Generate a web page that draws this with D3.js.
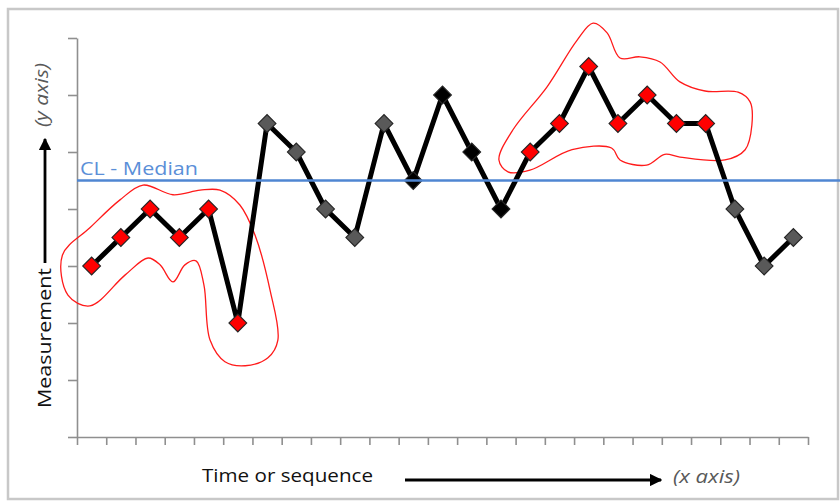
<!DOCTYPE html>
<html>
<head>
<meta charset="utf-8">
<script src="https://cdn.jsdelivr.net/npm/d3@7"></script>
<style>
  body { margin: 0; background: #fff; }
  svg { display: block; font-family: "Open Sans", "Noto Sans", sans-serif; }
</style>
</head>
<body>
<div id="chart"></div>
<script>
var svgWidth = 840;
var svgHeight = 502;

// data
var seq = [1, 2, 3, 4, 5, 6, 7, 8, 9, 10, 11, 12, 13, 14, 15, 16, 17, 18, 19, 20, 21, 22, 23, 24, 25];
var measure = [3, 3.5, 4, 3.5, 4, 2, 5.5, 5, 4, 3.5, 5.5, 4.5, 6, 5, 4, 5, 5.5, 6.5, 5.5, 6, 5.5, 5.5, 4, 3, 3.5];
// marker kind per point: r = red (signal), g = gray, k = black
var kind = ["r", "r", "r", "r", "r", "r", "g", "g", "g", "g", "g", "k", "k", "k", "k",
            "r", "r", "r", "r", "r", "r", "r", "g", "g", "g"];
var median = 4.5;
var yTicks = [0, 1, 2, 3, 4, 5, 6, 7];
var xTicks = [0.5, 1.5, 2.5, 3.5, 4.5, 5.5, 6.5, 7.5, 8.5, 9.5, 10.5, 11.5, 12.5, 13.5,
              14.5, 15.5, 16.5, 17.5, 18.5, 19.5, 20.5, 21.5, 22.5, 23.5, 24.5, 25.5];

// hand drawn red outlines, in (sequence, measurement) units
var loopLeft = [[0.0, 3.19], [0.94, 3.67], [1.97, 4.16], [2.76, 4.42], [3.78, 4.25], [4.71, 4.33],
  [5.39, 4.33], [6.07, 4.07], [6.59, 3.54], [7.10, 2.58], [7.37, 1.70], [7.03, 1.39],
  [6.25, 1.25], [5.56, 1.32], [5.05, 1.70], [4.84, 2.67], [4.57, 3.09], [4.19, 3.02],
  [3.78, 2.72], [3.34, 3.02], [2.93, 3.14], [2.14, 2.84], [0.94, 2.30], [0.19, 2.49]];
var loopRight = [[14.93, 4.86], [15.41, 5.39], [16.57, 6.14], [17.60, 6.96], [18.15, 7.26],
  [18.63, 7.09], [19.07, 6.65], [19.75, 6.67], [20.44, 6.58], [21.12, 6.23], [21.98, 6.07],
  [23.11, 6.05], [23.52, 5.88], [23.58, 5.47], [23.35, 5.04], [22.66, 4.86], [21.12, 4.91],
  [20.60, 4.96], [19.98, 4.77], [19.07, 4.86], [18.78, 5.07], [17.43, 5.04], [15.99, 4.68],
  [15.24, 4.65]];

var svg = d3.select("#chart")
  .append("svg")
  .attr("width", svgWidth)
  .attr("height", svgHeight);

// outer frame
svg.append("rect")
  .attr("x", 8).attr("y", 9)
  .attr("width", 830).attr("height", 490)
  .attr("fill", "none")
  .attr("stroke", "#c8c8c8")
  .attr("stroke-width", 2.5);

var xScale = d3.scaleLinear().domain([0.5, 25.5]).range([77, 808]);
var yScale = d3.scaleLinear().domain([0, 7]).range([437, 38]);

// axes, no labels
var yAxis = d3.axisLeft(yScale).tickValues(yTicks).tickSize(9).tickSizeOuter(0).tickFormat("");
var xAxis = d3.axisBottom(xScale).tickValues(xTicks).tickSize(8).tickSizeOuter(0).tickFormat("");

svg.append("g").attr("transform", "translate(" + xScale.range()[0] + ",0)").call(yAxis);
svg.append("g").attr("transform", "translate(0," + yScale(0) + ")").call(xAxis);
svg.selectAll(".domain, .tick line")
  .attr("stroke", "#8f8f8f")
  .attr("stroke-width", 1.6);

// red outlines
var loop = d3.line()
  .x(function(d) { return xScale(d[0]); })
  .y(function(d) { return yScale(d[1]); })
  .curve(d3.curveCatmullRomClosed.alpha(0.5));

[loopLeft, loopRight].forEach(function(pts) {
  svg.append("path")
    .attr("d", loop(pts))
    .attr("fill", "none")
    .attr("stroke", "#ff1a1a")
    .attr("stroke-width", 1.3);
});

// the series line
var pts = seq.map(function(s, i) { return { s: s, v: measure[i], k: kind[i] }; });

svg.append("path")
  .datum(pts)
  .attr("d", d3.line()
    .x(function(d) { return xScale(d.s); })
    .y(function(d) { return yScale(d.v); }))
  .attr("fill", "none")
  .attr("stroke", "#000")
  .attr("stroke-width", 5)
  .attr("stroke-linejoin", "round");

var fills = { r: "#ff0000", g: "#595959", k: "#000000" };

svg.selectAll("path.marker")
  .data(pts)
  .enter()
  .append("path")
  .attr("class", "marker")
  .attr("d", d3.symbol(d3.symbolSquare, 158))
  .attr("transform", function(d) {
    return "translate(" + xScale(d.s) + "," + yScale(d.v) + ") rotate(45)";
  })
  .attr("fill", function(d) { return fills[d.k]; })
  .attr("stroke", "#262626")
  .attr("stroke-width", 1.1);

// centre line
svg.append("line")
  .attr("x1", xScale.range()[0]).attr("x2", 840)
  .attr("y1", yScale(median)).attr("y2", yScale(median))
  .attr("stroke", "#4f86d2")
  .attr("stroke-width", 2.6);

svg.append("text")
  .attr("x", 80).attr("y", 175)
  .attr("font-size", 18)
  .attr("font-weight", 500)
  .attr("fill", "#5b8fd8")
  .attr("textLength", 118)
  .attr("lengthAdjust", "spacingAndGlyphs")
  .text("CL - Median");

// axis titles with arrows
svg.append("defs").append("marker")
  .attr("id", "head")
  .attr("viewBox", "0 0 10 10")
  .attr("refX", 9).attr("refY", 5)
  .attr("markerWidth", 4.5).attr("markerHeight", 4.5)
  .attr("markerUnits", "strokeWidth")
  .attr("orient", "auto")
  .append("path")
  .attr("d", "M0,0 L10,5 L0,10 Z")
  .attr("fill", "#000");

svg.append("text")
  .attr("x", 202).attr("y", 482)
  .attr("font-size", 18)
  .attr("font-weight", 500)
  .attr("fill", "#111")
  .attr("textLength", 171)
  .attr("lengthAdjust", "spacingAndGlyphs")
  .text("Time or sequence");

svg.append("line")
  .attr("x1", 405).attr("x2", 661)
  .attr("y1", 480).attr("y2", 480)
  .attr("stroke", "#000")
  .attr("stroke-width", 2.8)
  .attr("marker-end", "url(#head)");

svg.append("text")
  .attr("x", 673).attr("y", 483)
  .attr("font-size", 18)
  .attr("font-style", "italic")
  .attr("fill", "#595959")
  .attr("textLength", 67)
  .attr("lengthAdjust", "spacingAndGlyphs")
  .text("(x axis)");

svg.append("text")
  .attr("transform", "translate(51,338) rotate(-90)")
  .attr("text-anchor", "middle")
  .attr("font-size", 19)
  .attr("font-weight", 500)
  .attr("fill", "#111")
  .attr("textLength", 140)
  .attr("lengthAdjust", "spacingAndGlyphs")
  .text("Measurement");

svg.append("line")
  .attr("x1", 45).attr("x2", 45)
  .attr("y1", 263).attr("y2", 139)
  .attr("stroke", "#000")
  .attr("stroke-width", 2.8)
  .attr("marker-end", "url(#head)");

svg.append("text")
  .attr("transform", "translate(48,95) rotate(-90)")
  .attr("text-anchor", "middle")
  .attr("font-size", 18)
  .attr("font-style", "italic")
  .attr("fill", "#595959")
  .attr("textLength", 64)
  .attr("lengthAdjust", "spacingAndGlyphs")
  .text("(y axis)");
</script>
</body>
</html>
